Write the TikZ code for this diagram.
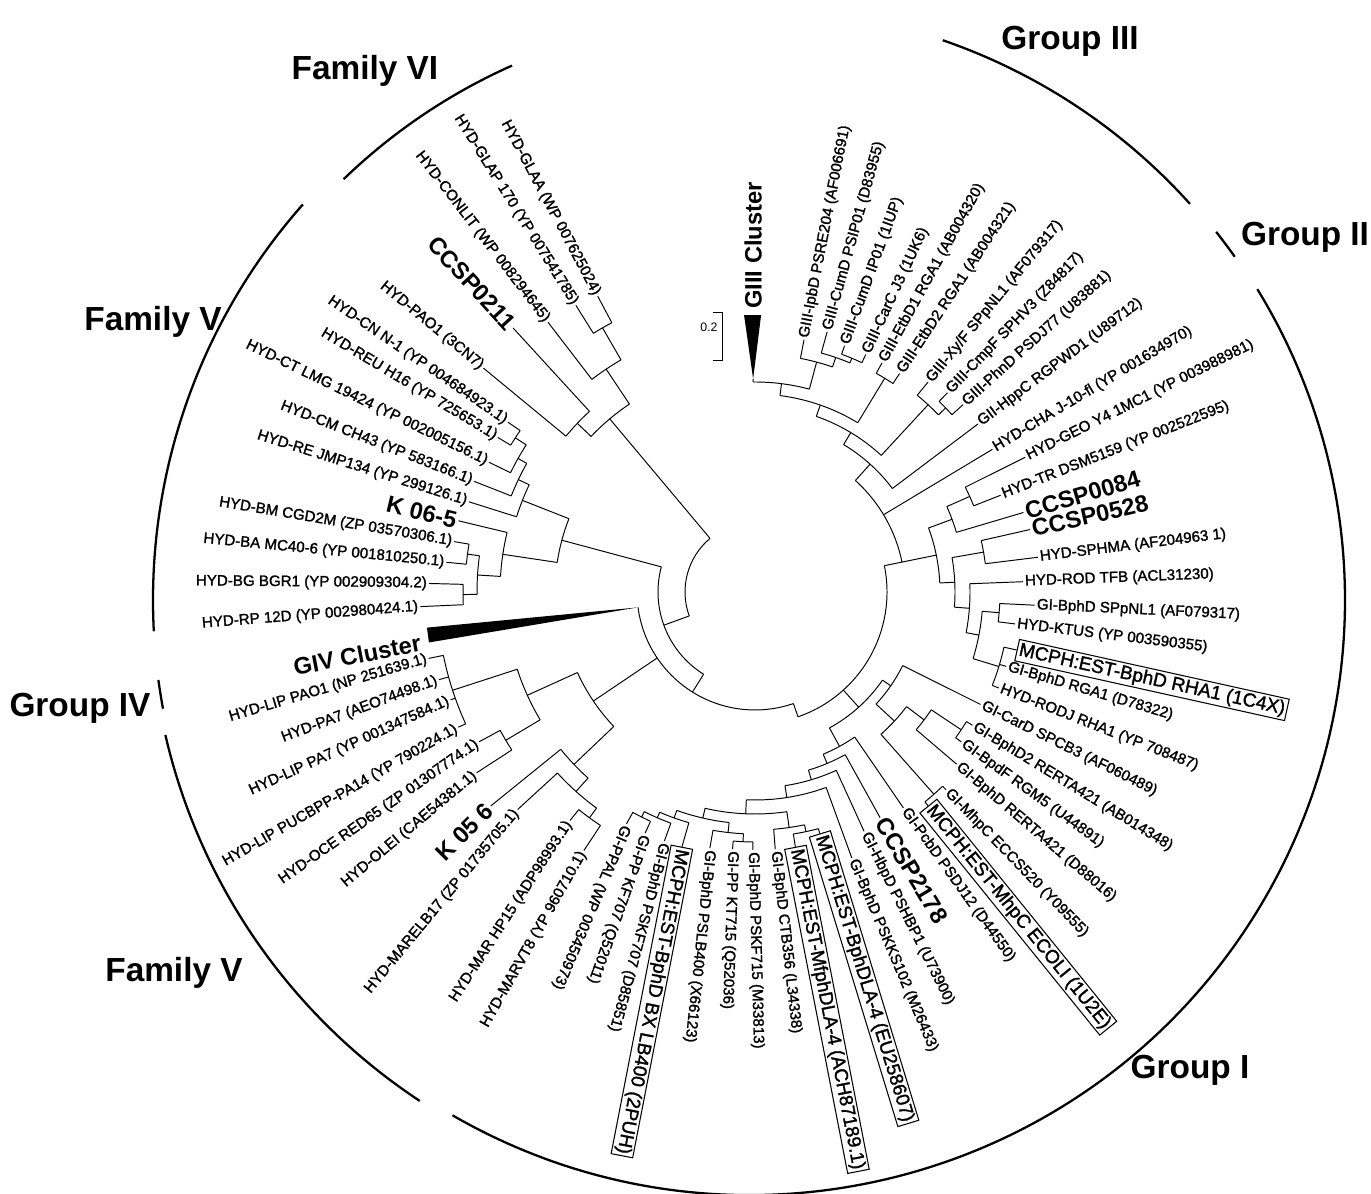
\documentclass[tikz,border=0pt]{standalone}
\usepackage{fontspec}
\setmainfont{Liberation Sans}
\newfontfamily\lblfont[FakeBold=1.5]{Liberation Sans}
\newcounter{leafc}
\newcommand\Ra[3]{\draw (#1:#2) -- (#1:#3);}
\newcommand\Ar[3]{\draw (#2:#1) arc[start angle=#2, end angle=#3, radius=#1];}
\newcommand\GA[3]{\draw[grp] (#2:#1) arc[start angle=#2, end angle=#3, radius=#1];}
\newcommand\LR[5]{\stepcounter{leafc}\draw (#2:#3) -- (#2:#4);
  \node[#1, anchor=west, rotate=#2] (leaf\arabic{leafc}) at (#2:#4) {#5};}
\newcommand\LL[5]{\stepcounter{leafc}\draw (#2:#3) -- (#2:#4);
  \node[#1, anchor=east, rotate=#2+180] (leaf\arabic{leafc}) at (#2:#4) {#5};}
\newcommand\LRd[6]{\stepcounter{leafc}\draw (#2:#3) -- (#2:#4);
  \node[#1, anchor=west, rotate=#2+#5] (leaf\arabic{leafc}) at (#2:#4) {#6};}
\newcommand\LLd[6]{\stepcounter{leafc}\draw (#2:#3) -- (#2:#4);
  \node[#1, anchor=east, rotate=#2+180+#5] (leaf\arabic{leafc}) at (#2:#4) {#6};}
\begin{document}
\begin{tikzpicture}[x=0.02cm, y=0.02cm, line width=0.55pt,
  lbl/.style={font=\lblfont\fontsize{8.6}{9.5}\selectfont, inner sep=1pt},
  big/.style={font=\bfseries\fontsize{13.5}{15}\selectfont, inner sep=1pt},
  boxl/.style={font=\lblfont\fontsize{10.8}{12}\selectfont, draw, line width=0.6pt, inner sep=1.2pt},
  ttl/.style={font=\bfseries\fontsize{19}{22}\selectfont},
  grp/.style={line width=1.3pt}]
\useasboundingbox (0,0) rectangle (1371,1193);

% titles
\node[ttl] (tFVI) at (365,1122) {Family VI};
\node[ttl] (tGIII) at (1070,1152) {Group III};
\node[ttl] (tGII) at (1305,956) {Group II};
\node[ttl] (tFVa) at (153,871) {Family V};
\node[ttl] (tGIV) at (80,485) {Group IV};
\node[ttl] (tFVb) at (174,220) {Family V};
\node[ttl] (tGI) at (1190,123) {Group I};

% group arcs
\begin{scope}[shift={(750,593)}]
\GA{585}{114}{134}
\GA{597}{138.5}{183}
\GA{597}{187.7}{190.5}
\GA{600}{193}{236.6}
\GA{595}{240}{391.5}
\GA{594}{35.3}{38.3}
\GA{592}{42}{71}
\end{scope}

% scale bar
\draw (713,881) -- (722,881) -- (722,833) -- (713,833);
\node[font=\fontsize{7}{8}\selectfont, inner sep=0pt] (scl) at (709,866) {0.2};

\begin{scope}[shift={(755,601)}]
% ---- central structure
\Ar{70}{130}{200}
\Ra{130}{70}{226}
\Ra{200}{70}{97}
\Ar{97}{165}{238}
\Ra{165}{97}{200}
\Ra{238}{97}{118}
\Ar{118}{187.5}{289}
\Ra{214}{118}{195}
\Ra{289}{118}{132}
\Ar{132}{289}{371.5}
\Ra{312}{132}{155}
\Ra{11.5}{132}{150}

% ---- GIV cluster
\fill (187.5:118) -- (186.2:330) -- (188.8:330) -- cycle;
\node[big, anchor=east, rotate=11] (giv) at (188.6:336) {GIV Cluster};

% ---- top-left (Family VI etc.)
\Ar{226}{123.75}{136.5}
\Ra{123.75}{226}{268}
\Ar{268}{120}{127.5}
\Ra{120}{268}{305}
\Ar{305}{118}{122}
\LL{lbl}{118}{305}{335}{HYD-GLAA (WP 007625024)}
\LL{lbl}{122}{305}{338}{HYD-GLAP 170 (YP 007541785)}
\LL{lbl}{127.5}{268}{340}{HYD-CONLIT (WP 008294645)}
\Ra{136.5}{226}{245}
\Ar{245}{132.5}{140.5}
\LL{big}{132.5}{245}{358}{CCSP0211}
\LL{lbl}{140.5}{245}{352}{HYD-PAO1 (3CN7)}

% ---- middle-left
\Ar{200}{158.5}{171.5}
\Ra{158.5}{200}{250}
\Ar{250}{154.6}{162.5}
\LL{lbl}{162.5}{250}{300}{HYD-RE JMP134 (YP 299126.1)}
\Ra{154.6}{250}{262}
\Ar{262}{150.6}{158.5}
\LL{lbl}{158.5}{262}{302}{HYD-CM CH43 (YP 583166.1)}
\Ra{150.6}{262}{272}
\Ar{272}{147.25}{154}
\LL{lbl}{154}{272}{296}{HYD-CT LMG 19424 (YP 002005156.1)}
\Ra{147.25}{272}{285}
\Ar{285}{145.5}{149}
\LL{lbl}{145.5}{285}{300}{HYD-CN N-1 (YP 004684923.1)}
\LL{lbl}{149}{285}{300}{HYD-REU H16 (YP 725653.1)}
\Ra{171.5}{200}{255}
\Ar{255}{166.5}{176.5}
\LL{big}{166.5}{255}{305}{K 06-5}
\Ra{176.5}{255}{278}
\Ar{278}{172.5}{180.5}
\Ra{172.5}{278}{290}
\Ar{290}{170.5}{174.5}
\LL{lbl}{170.5}{290}{305}{HYD-BM CGD2M (ZP 03570306.1)}
\LL{lbl}{174.5}{290}{310}{HYD-BA MC40-6 (YP 001810250.1)}
\Ra{180.5}{278}{292}
\Ar{292}{178.5}{182.5}
\LLd{lbl}{178.5}{292}{326}{1}{HYD-BG BGR1 (YP 002909304.2)}
\LLd{lbl}{182.5}{292}{335}{2}{HYD-RP 12D (YP 002980424.1)}

% ---- lower Family V
\Ar{195}{204.4}{223.6}
\Ra{204.4}{195}{250}
\Ar{250}{198}{210.75}
\Ra{198}{250}{318}
\Ar{318}{191.5}{204.5}
\LLd{lbl}{191.5}{318}{333}{5}{HYD-LIP PAO1 (NP 251639.1)}
\LLd{lbl}{195.5}{318}{328}{5}{HYD-PA7 (AEO74498.1)}
\LLd{lbl}{199.5}{318}{323}{5}{HYD-LIP PA7 (YP 001347584.1)}
\LLd{lbl}{204.5}{318}{326}{5.5}{HYD-LIP PUCBPP-PA14 (YP 790224.1)}
\Ra{210.75}{250}{290}
\Ar{290}{208.5}{213}
\LLd{lbl}{208.5}{290}{314}{6.5}{HYD-OCE RED65 (ZP 01307774.1)}
\LLd{lbl}{213}{290}{332}{7}{HYD-OLEI (CAE54381.1)}
\Ra{223.6}{195}{250}
\Ar{250}{219}{228.1}
\LLd{big}{219}{250}{340}{6}{K 05 6}
\Ra{228.1}{250}{268}
\Ar{268}{222.5}{233.75}
\LLd{lbl}{222.5}{268}{322}{8}{HYD-MARELB17 (ZP 01735705.1)}
\Ra{233.75}{268}{280}
\Ar{280}{231}{236.5}
\LLd{lbl}{231}{280}{294}{6}{HYD-MAR HP15 (ADP98993.1)}
\LLd{lbl}{236.5}{280}{310}{4}{HYD-MARVT8 (YP 960710.1)}

% ---- bottom (Group I)
\Ar{155}{-61.3}{-34.65}
\Ra{-34.65}{155}{165}
\Ar{165}{-42.8}{-26.5}
\LR{lbl}{-26.5}{165}{252}{GI-CarD SPCB3 (AF060489)}
\Ra{-42.8}{165}{190}
\Ar{190}{-48.5}{-37.1}
\Ra{-37.1}{190}{212}
\Ar{212}{-40.5}{-33.75}
\LR{lbl}{-40.5}{212}{265}{GI-BphD RERTA421 (D88016)}
\Ra{-33.75}{212}{248}
\Ar{248}{-36}{-31.5}
\LR{lbl}{-31.5}{248}{255}{GI-BphD2 RERTA421 (AB014348)}
\LR{lbl}{-36}{248}{255}{GI-BpdF RGM5 (U44891)}
\Ra{-48.5}{190}{270}
\Ar{270}{-51}{-46}
\LR{lbl}{-46}{270}{275}{GI-MhpC ECCS520 (Y09555)}
\LR{boxl}{-51}{270}{275}{MCPH:EST-MhpC ECOLI (1U2E)}
\Ra{-61.3}{155}{176}
\Ar{176}{-67.2}{-55.5}
\LRd{lbl}{-55.5}{176}{262}{1}{GI-PcbD PSDJ12 (D44550)}
\Ra{-67.2}{176}{186}
\Ar{186}{-73.3}{-61}
\LRd{big}{-61}{186}{258}{2}{CCSP2178}
\Ra{-73.3}{186}{196}
\Ar{196}{-81.2}{-65.5}
\LRd{lbl}{-65.5}{196}{263}{2}{GI-HbpD PSHBP1 (U73900)}
\Ra{-81.2}{196}{208}
\Ar{208}{-92.4}{-70}
\LRd{lbl}{-70}{208}{283}{3}{GI-BphD PSKKS102 (M26433)}
\Ra{-92.4}{208}{222}
\Ar{222}{-103}{-81.75}
\Ra{-81.75}{222}{238}
\Ar{238}{-85.5}{-78}
\LRd{lbl}{-85.5}{238}{258}{2}{GI-BphD CTB356 (L34338)}
\Ra{-78}{238}{245}
\Ar{245}{-81}{-75}
\LRd{boxl}{-75}{245}{250}{2}{MCPH:EST-BphDLA-4 (EU258607)}
\LRd{boxl}{-81}{245}{258}{2}{MCPH:EST-MfphDLA-4 (ACH87189.1)}
\Ra{-103}{222}{232}
\Ar{232}{-109.7}{-96.4}
\Ra{-96.4}{232}{242}
\Ar{242}{-100}{-92.75}
\LRd{lbl}{-100}{242}{260}{4}{GI-BphD PSLB400 (X66123)}
\Ra{-92.75}{242}{250}
\Ar{250}{-95}{-90.5}
\LRd{lbl}{-95}{250}{258}{3}{GI-PP KT715 (Q52036)}
\LRd{lbl}{-90.5}{250}{258}{2}{GI-BphD PSKF715 (M33813)}
\Ra{-109.7}{232}{240}
\Ar{240}{-113.4}{-106}
\LRd{boxl}{-106}{240}{265}{5}{MCPH:EST-BphD BX LB400 (2PUH)}
\Ra{-113.4}{240}{246}
\Ar{246}{-116.75}{-110}
\LRd{lbl}{-110}{246}{265}{5}{GI-BphD PSKF707 (D85851)}
\Ra{-116.75}{246}{252}
\Ar{252}{-119}{-114.5}
\LRd{lbl}{-114.5}{252}{265}{5}{GI-PP KF707 (Q52011)}
\LRd{lbl}{-119}{252}{265}{6}{GI-PPAL (WP 003450973)}

% ---- right side
\Ar{150}{11.5}{48}
\Ra{11.5}{150}{185}
\Ar{185}{2.8}{20.25}
\Ra{20.25}{185}{210}
\Ar{210}{16.5}{24}
\LR{big}{16.5}{210}{280}{CCSP0084}
\Ra{24}{210}{235}
\Ar{235}{21.5}{26.5}
\LR{lbl}{21.5}{235}{264}{HYD-TR DSM5159 (YP 002522595)}
\LR{lbl}{26.5}{235}{302}{HYD-GEO Y4 1MC1 (YP 003988981)}
\Ra{2.8}{185}{200}
\Ar{200}{-4.35}{9.9}
\Ra{9.9}{200}{232}
\Ar{232}{7}{12.8}
\LR{big}{12.8}{232}{282}{CCSP0528}
\LR{lbl}{7}{232}{285}{HYD-SPHMA (AF204963 1)}
\Ra{-4.35}{200}{215}
\Ar{215}{-10.9}{2.2}
\LR{lbl}{2.2}{215}{268}{HYD-ROD TFB (ACL31230)}
\Ra{-10.9}{215}{228}
\Ar{228}{-17}{-4.85}
\Ra{-4.85}{228}{245}
\Ar{245}{-7}{-2.7}
\LR{lbl}{-2.7}{245}{280}{GI-BphD SPpNL1 (AF079317)}
\LR{lbl}{-7}{245}{262}{HYD-KTUS (YP 003590355)}
\Ra{-17}{228}{255}
\Ar{255}{-21.5}{-12.5}
\LR{boxl}{-12.5}{255}{268}{MCPH:EST-BphD RHA1 (1C4X)}
\LR{lbl}{-16.5}{255}{262}{GI-BphD RGA1 (D78322)}
\LR{lbl}{-21.5}{255}{262}{HYD-RODJ RHA1 (YP 708487)}
\LR{lbl}{31}{150}{277}{HYD-CHA J-10-fl (YP 001634970)}
\Ra{48}{150}{172}
\Ar{172}{37}{59}
\LR{lbl}{37}{172}{279}{GII-HppC RGPWD1 (U89712)}
\Ra{59}{172}{186}
\Ar{186}{47.25}{70.75}
\Ra{47.25}{186}{255}
\Ar{255}{44}{50.5}
\LR{lbl}{50.5}{255}{272}{GIII-Xy/F SPpNL1 (AF079317)}
\Ra{44}{255}{265}
\Ar{265}{42}{46}
\LR{lbl}{46}{265}{277}{GIII-CmpF SPHV3 (Z84817)}
\LR{lbl}{42}{265}{280}{GIII-PhnD PSDJ77 (U83881)}
\Ra{70.75}{186}{198}
\Ar{198}{58.75}{82.75}
\Ra{58.75}{198}{250}
\Ar{250}{56.5}{61}
\LR{lbl}{61}{250}{262}{GIII-EtbD1 RGA1 (AB004320)}
\LR{lbl}{56.5}{250}{262}{GIII-EtbD2 RGA1 (AB004321)}
\Ra{82.75}{198}{210}
\Ar{210}{75}{90.5}
\Ra{90.5}{210}{213}
\fill (90.5:213) -- (88.74:277) -- (92.26:277) -- cycle;
\node[big, anchor=west, rotate=90] (giii) at (90.4:281) {GIII Cluster};
\Ra{75}{210}{238}
\Ar{238}{71}{79}
\LR{lbl}{79}{238}{257}{GIII-IpbD PSRE204 (AF006691)}
\Ra{71}{238}{248}
\Ar{248}{67.5}{74.5}
\LR{lbl}{74.5}{248}{270}{GIII-CumD PSIP01 (D83955)}
\Ra{67.5}{248}{253}
\Ar{253}{65}{70}
\LR{lbl}{70}{253}{262}{GIII-CumD IP01 (1IUP)}
\LR{lbl}{65}{253}{262}{GIII-CarC J3 (1UK6)}
\end{scope}
\end{tikzpicture}
\end{document}
